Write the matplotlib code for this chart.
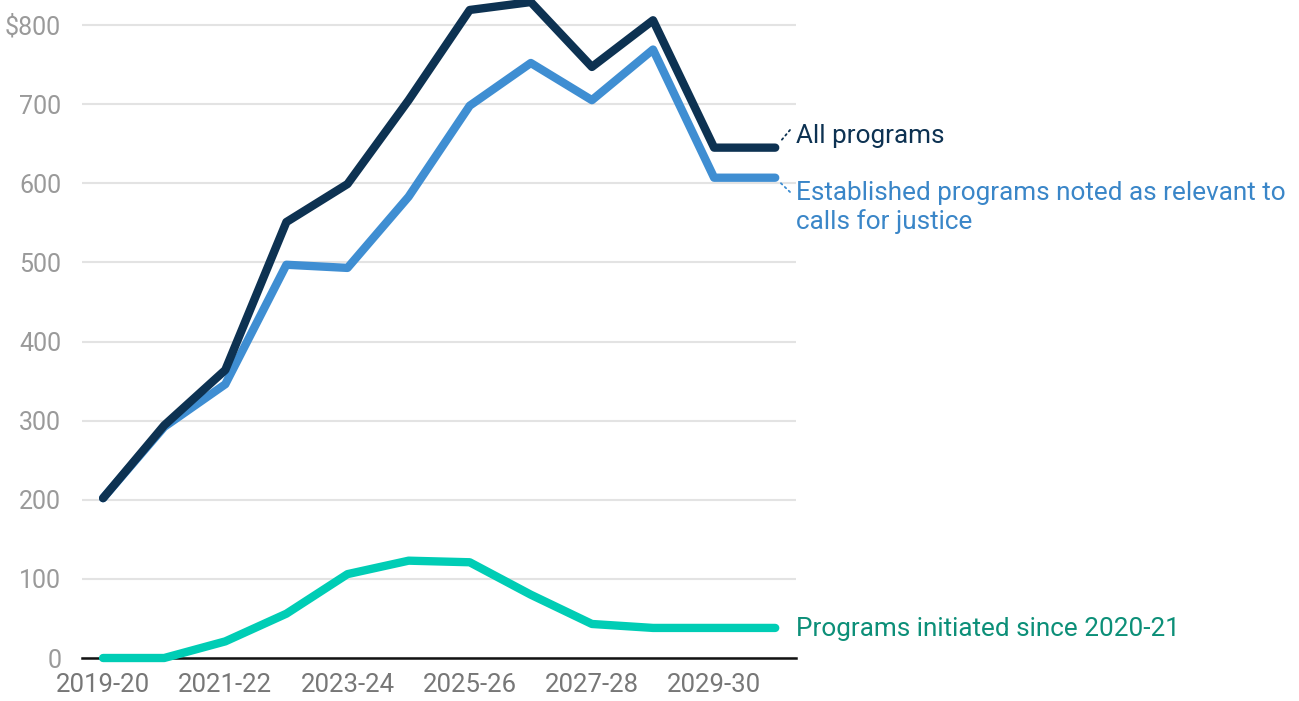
import matplotlib
matplotlib.use("Agg")
import matplotlib.pyplot as plt

plt.rcParams['font.family'] = ['Roboto', 'DejaVu Sans']

years = ["2019-20", "2020-21", "2021-22", "2022-23", "2023-24", "2024-25",
         "2025-26", "2026-27", "2027-28", "2028-29", "2029-30", "2030-31"]
all_programs = [202, 294, 364, 551, 599, 705, 819, 829, 747, 806, 645, 645]
established = [202, 292, 346, 497, 493, 583, 698, 752, 705, 769, 607, 607]
initiated = [0, 0, 21, 56, 106, 123, 121, 80, 43, 38, 38, 38]

yticks = [0, 100, 200, 300, 400, 500, 600, 700, 800]
ytick_labels = ["0", "100", "200", "300", "400", "500", "600", "700", "$800"]

c_all = "#0d3252"
c_est = "#3f8ed2"
c_ini = "#00cdb5"
c_ini_txt = "#0c8f78"
c_est_txt = "#3a86c8"

W, H = 1299, 701
fig = plt.figure(figsize=(W/100, H/100), dpi=100)
ax = fig.add_axes([82/W, (H-658)/H, (796-82)/W, 658/H])

def fy(py):
    return 1 - py/H

x = list(range(len(years)))
lw = 6.0
ax.plot(x, initiated, color=c_ini, lw=lw, solid_capstyle='round', solid_joinstyle='round', clip_on=False, zorder=3)
ax.plot(x, established, color=c_est, lw=lw, solid_capstyle='round', solid_joinstyle='round', clip_on=False, zorder=4)
ax.plot(x, all_programs, color=c_all, lw=lw, solid_capstyle='round', solid_joinstyle='round', clip_on=False, zorder=5)

ax.set_xlim(-0.345, 11.34)
ax.set_ylim(0, 831.6)

ax.set_yticks(yticks)
ax.set_yticklabels(ytick_labels)
ax.set_xticks(x[::2])
ax.set_xticklabels(years[::2])

ax.grid(axis='y', color='#e3e3e3', lw=1.5, zorder=0)
ax.grid(axis='x', visible=False)
for s in ['top', 'right', 'left']:
    ax.spines[s].set_visible(False)
ax.spines['bottom'].set_color('#111111')
ax.spines['bottom'].set_linewidth(1.8)
ax.spines['bottom'].set_zorder(2)

ax.tick_params(axis='y', length=0, pad=15, labelsize=18, labelcolor='#9a9a9a')
ax.tick_params(axis='x', length=0, pad=11, labelsize=18.5, labelcolor='#777777')

fs = 18.8
xe = 11
ax.annotate("All programs", xy=(xe, all_programs[-1]), xytext=(796/W, fy(136)),
            textcoords='figure fraction', fontsize=fs, color=c_all, va='center', ha='left',
            annotation_clip=False)
ax.annotate("", xy=(xe, all_programs[-1]), xytext=(790/W, fy(130)), textcoords='figure fraction',
            annotation_clip=False,
            arrowprops=dict(arrowstyle='-', color=c_all, linestyle=(0, (1, 2)), lw=1.3,
                            shrinkA=0, shrinkB=5))
ax.annotate("Established programs noted as relevant to\ncalls for justice", xy=(xe, established[-1]),
            xytext=(796/W, fy(181)), textcoords='figure fraction', fontsize=fs, color=c_est_txt,
            va='top', ha='left', linespacing=1.2, annotation_clip=False)
ax.annotate("", xy=(xe, established[-1]), xytext=(790/W, fy(192)), textcoords='figure fraction',
            annotation_clip=False,
            arrowprops=dict(arrowstyle='-', color=c_est, linestyle=(0, (1, 2)), lw=1.3,
                            shrinkA=0, shrinkB=5))
ax.annotate("Programs initiated since 2020-21", xy=(xe, initiated[-1]), xytext=(796/W, fy(629)),
            textcoords='figure fraction', fontsize=fs, color=c_ini_txt, va='center', ha='left',
            annotation_clip=False)

fig.savefig("out.png", dpi=100)
